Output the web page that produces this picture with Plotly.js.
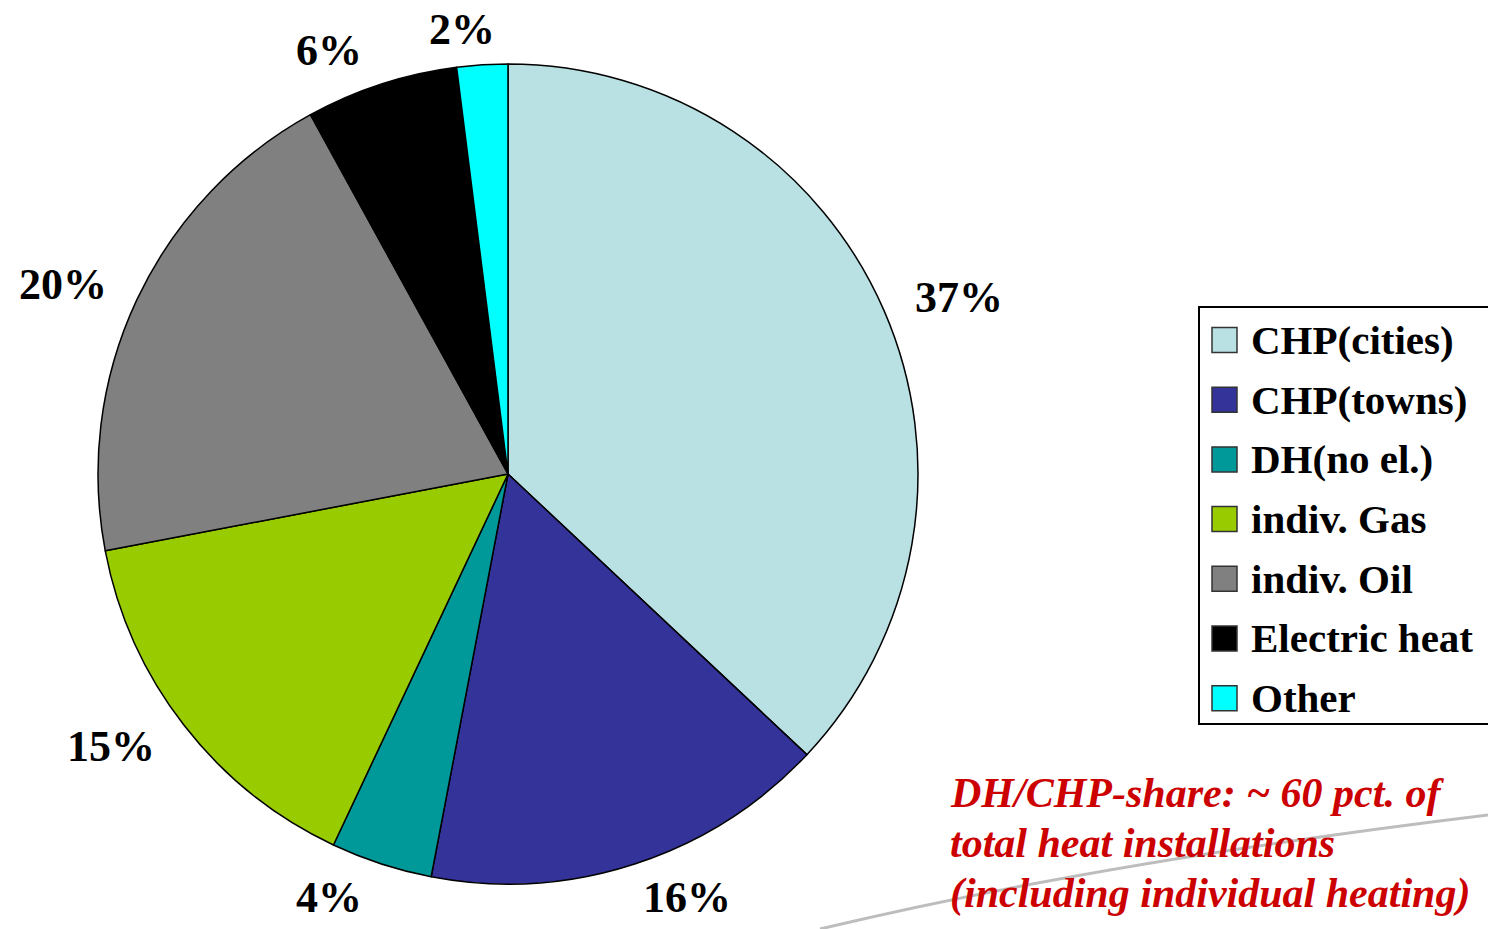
<!DOCTYPE html>
<html>
<head>
<meta charset="utf-8">
<script src="https://cdn.plot.ly/plotly-3.0.1.min.js"></script>
<style>html,body{margin:0;padding:0;background:#fff;}#chart{width:1488px;height:929px;}</style>
</head>
<body>
<div id="chart"></div>
<script>
var categories = ["CHP(cities)", "CHP(towns)", "DH(no el.)", "indiv. Gas", "indiv. Oil", "Electric heat", "Other"];
var shares = [37, 16, 4, 15, 20, 6, 2];
var colors = ["#B9E0E3", "#333399", "#009999", "#99CC00", "#808080", "#000000", "#00FFFF"];
var noteLines = ["DH/CHP-share: ~ 60 pct. of", "total heat installations", "(including individual heating)"];

var W = 1488, H = 929;
var serif = "'Liberation Serif', 'Times New Roman', serif";
var CX = 508, CY = 474, R = 410;

var trace = {
  type: "pie",
  labels: categories,
  values: shares,
  sort: false,
  direction: "clockwise",
  rotation: 0,
  marker: {colors: colors, line: {color: "#000", width: 1.5}},
  textinfo: "none",
  hoverinfo: "label+percent",
  showlegend: false,
  domain: {x: [(CX - R) / W, (CX + R) / W], y: [(H - CY - R) / H, (H - CY + R) / H]}
};

var shapes = [];
var annotations = [];
// background swoosh
shapes.push({type: "path", xref: "paper", yref: "paper", layer: "below",
  path: "M " + (820 / W) + " 0 Q " + (1100 / W) + " " + ((H - 862) / H) + " " + 1 + " " + ((H - 815) / H),
  line: {color: "#bdbdbd", width: 3}});

// percentage labels, placed outside each slice at its mid-angle
var total = shares.reduce(function (a, b) { return a + b; }, 0);
var cum = 0;
for (var k = 0; k < shares.length; k++) {
  var mid = (cum + shares[k] / 2) / total * 2 * Math.PI;
  cum += shares[k];
  var s = Math.sin(mid), c = Math.cos(mid);
  var lx = CX + 485 * (s < 0 ? -1 : 1) * Math.pow(Math.abs(s), 0.85);
  var ly = CY - 445 * c;
  annotations.push({xref: "paper", yref: "paper", x: lx / W, y: (H - ly) / H,
    xanchor: "center", yanchor: "middle", showarrow: false,
    text: "<b>" + shares[k] + "%</b>",
    font: {family: serif, size: 44, color: "#000"}});
}

// legend box
var lx0 = 1199, ly0 = 307, lx1 = 1490, ly1 = 724;
shapes.push({type: "rect", xref: "paper", yref: "paper",
  x0: lx0 / W, x1: lx1 / W, y0: (H - ly1) / H, y1: (H - ly0) / H,
  line: {color: "#000", width: 2}, fillcolor: "#fff"});
var firstY = 340, stepY = 59.7, sq = 25;
for (var i = 0; i < categories.length; i++) {
  var cy = firstY + i * stepY;
  shapes.push({type: "rect", xref: "paper", yref: "paper",
    x0: 1212 / W, x1: (1212 + sq) / W, y0: (H - cy - sq / 2) / H, y1: (H - cy + sq / 2) / H,
    fillcolor: colors[i], line: {color: "#333", width: 1.5}});
  annotations.push({xref: "paper", yref: "paper", x: 1249 / W, y: (H - cy) / H,
    xanchor: "left", yanchor: "middle", showarrow: false,
    text: "<b>" + categories[i] + "</b>",
    font: {family: serif, size: 41, color: "#000"}});
}

// red note, one annotation per line
for (var j = 0; j < noteLines.length; j++) {
  annotations.push({xref: "paper", yref: "paper", x: 948 / W, y: (H - (768 + j * 50)) / H,
    xanchor: "left", yanchor: "top", align: "left", showarrow: false,
    text: "<b><i>" + noteLines[j] + "</i></b>",
    font: {family: serif, size: 42, color: "#CC0000"}});
}

var layout = {
  width: W, height: H,
  margin: {l: 0, r: 0, t: 0, b: 0},
  paper_bgcolor: "#fff",
  plot_bgcolor: "#fff",
  showlegend: false,
  shapes: shapes,
  annotations: annotations
};

Plotly.newPlot("chart", [trace], layout, {displayModeBar: false, staticPlot: true});
</script>
</body>
</html>
